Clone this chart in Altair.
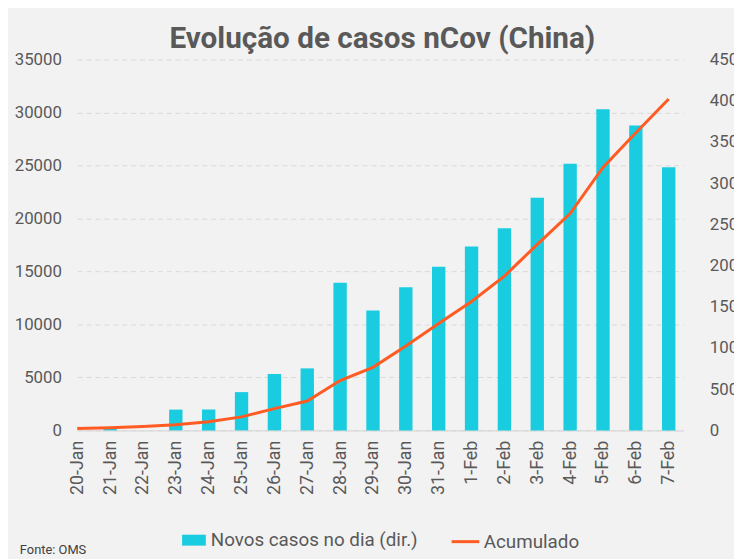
import altair as alt
import pandas as pd

dias = ["20-Jan", "21-Jan", "22-Jan", "23-Jan", "24-Jan", "25-Jan", "26-Jan",
        "27-Jan", "28-Jan", "29-Jan", "30-Jan", "31-Jan", "1-Feb", "2-Feb",
        "3-Feb", "4-Feb", "5-Feb", "6-Feb", "7-Feb"]
novos = [0, 150, 0, 1960, 1960, 3610, 5320, 5850, 13940, 11320, 13500, 15430,
         17360, 19070, 21950, 25150, 30300, 28780, 24830]
acumulado = [240, 320, 480, 680, 1040, 1640, 2640, 3560, 6040, 7650, 10240,
             12960, 15640, 18720, 22560, 26300, 31900, 36100, 40200]
series = ["Novos casos no dia (dir.)", "Acumulado"]
left_ticks = [0, 5000, 10000, 15000, 20000, 25000, 30000, 35000]
right_ticks = [0, 5000, 10000, 15000, 20000, 25000, 30000, 35000, 40000, 45000]

df = pd.DataFrame({"dia": dias, "novos": novos, "acumulado": acumulado,
                   "s_bar": [series[0]] * len(dias),
                   "s_line": [series[1]] * len(dias)})

FONT = "Roboto"
GREY = "#595959"
BAR = "#1ACCE0"
LINE = "#FF5B22"

xenc = alt.X("dia:O", sort=dias,
             scale=alt.Scale(type="point", padding=0.226, align=0),
             axis=alt.Axis(title=None, labelAngle=-90, ticks=False, grid=False,
                           domainColor="#d9d9d9", domainWidth=1.5,
                           labelFont=FONT, labelFontSize=18, labelColor=GREY,
                           labelPadding=10))

bars = alt.Chart(df).mark_bar(width=13.5).encode(
    x=xenc,
    y=alt.Y("novos:Q", scale=alt.Scale(domain=[0, 35000]),
            axis=alt.Axis(title=None, values=left_ticks, format="d",
                          domain=False, ticks=False, grid=True,
                          gridColor="#d9d9d9", gridDash=[5, 4], gridWidth=1,
                          labelFont=FONT, labelFontSize=17, labelColor=GREY,
                          labelPadding=16)),
    fill=alt.Fill("s_bar:N",
                  scale=alt.Scale(domain=[series[0]], range=[BAR]),
                  legend=alt.Legend(title=None, orient="none",
                                    legendX=106, legendY=474,
                                    symbolType="M-1,-0.46H1V0.46H-1Z",
                                    symbolSize=576, symbolStrokeWidth=0,
                                    labelFont=FONT, labelFontSize=19,
                                    labelColor=GREY, labelOffset=5,
                                    labelLimit=400)),
)

line = alt.Chart(df).mark_line(strokeWidth=3).encode(
    x=alt.X("dia:O", sort=dias),
    y=alt.Y("acumulado:Q", scale=alt.Scale(domain=[0, 45000]),
            axis=alt.Axis(title=None, orient="right", values=right_ticks,
                          format="d", domain=False, ticks=False, grid=False,
                          labelFont=FONT, labelFontSize=17, labelColor=GREY,
                          labelPadding=26)),
    stroke=alt.Stroke("s_line:N",
                      scale=alt.Scale(domain=[series[1]], range=[LINE]),
                      legend=alt.Legend(title=None, orient="none",
                                        legendX=377, legendY=472,
                                        symbolType="stroke",
                                        symbolSize=784,
                                        symbolStrokeWidth=3,
                                        labelFont=FONT, labelFontSize=19,
                                        labelColor=GREY, labelOffset=3,
                                        labelLimit=400)),
)

fonte = alt.Chart(pd.DataFrame({"t": ["Fonte: OMS"]})).mark_text(
    align="left", baseline="alphabetic", font=FONT, fontSize=13,
    color="#404040").encode(text="t:N", x=alt.value(-58), y=alt.value(500))

chart = alt.layer(bars, line, fonte).resolve_scale(
    y="independent", fill="independent", stroke="independent"
).properties(
    width=613, height=375,
    title=alt.Title("Evolução de casos nCov (China)", font=FONT, fontSize=30,
                    fontWeight="bold", color=GREY, anchor="middle", offset=-3,
                    dx=2),
    background="#f2f2f2",
    padding={"left": 70, "top": 49, "right": 51, "bottom": 127},
    autosize=alt.AutoSizeParams(type="none"),
).configure_view(stroke=None)

chart.save("out.html", embed_options={"renderer": "svg", "actions": False})
